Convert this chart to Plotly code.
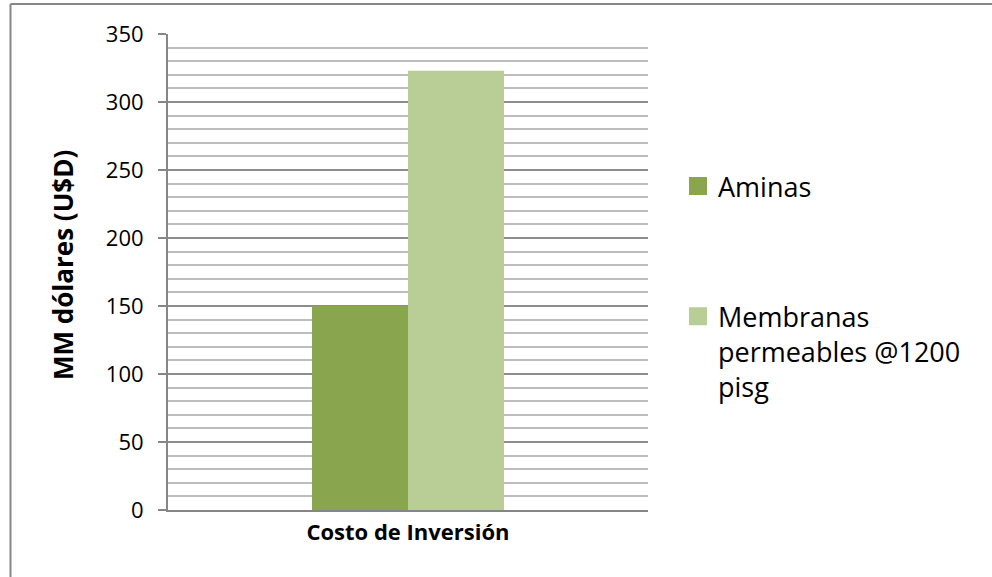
import plotly.graph_objects as go

# Investment cost comparison (millions of US dollars)
categories = ["Costo de Inversión"]
series_names = ["Aminas", "Membranas<br>permeables @1200<br>pisg"]
aminas_values = [150]
membranas_values = [323]
series_colors = ["#89A54E", "#B9CD96"]
y_tick_values = [0, 50, 100, 150, 200, 250, 300, 350]

W, H = 992, 577
L, R, T, B = 168, 344, 34, 67
plot_w = W - L - R
plot_h = H - T - B

FONT = "'Open Sans', Lato, sans-serif"
AXIS_GREY = "#868686"

fig = go.Figure()

for name, vals, col in zip(series_names, [aminas_values, membranas_values], series_colors):
    fig.add_trace(go.Bar(
        x=categories, y=vals, name=name,
        marker=dict(color=col, line=dict(width=0)),
        showlegend=False, legendgroup=name,
    ))

# larger square legend keys
for name, col in zip(series_names, series_colors):
    fig.add_trace(go.Scatter(
        x=[None], y=[None], mode="markers", name=name, legendgroup=name,
        marker=dict(symbol="square", size=16, color=col, line=dict(color=col, width=2)),
    ))

def px_x(px):
    return (px - L) / plot_w

def px_y(py):
    return (H - B - py) / plot_h

fig.update_layout(
    width=W, height=H,
    margin=dict(l=L, r=R, t=T, b=B, autoexpand=False),
    paper_bgcolor="white", plot_bgcolor="white",
    font=dict(family=FONT, color="#000000", size=22),
    barmode="group", bargap=0.6, bargroupgap=0,
    xaxis=dict(
        type="category",
        showline=True, linecolor=AXIS_GREY, linewidth=2,
        showgrid=False, ticks="",
        ticklabelstandoff=2,
        tickfont=dict(family=FONT, size=22, color="#000000", weight="bold"),
        fixedrange=True,
    ),
    yaxis=dict(
        range=[0, 350],
        tickvals=y_tick_values,
        showline=True, linecolor=AXIS_GREY, linewidth=2,
        showgrid=True, gridcolor="#8C8C8C", gridwidth=1.5,
        ticks="outside", ticklen=8, tickcolor=AXIS_GREY, tickwidth=2,
        ticklabelstandoff=10,
        tickfont=dict(family=FONT, size=22, color="#000000"),
        minor=dict(dtick=10, showgrid=True, gridcolor="#BDBDBD", gridwidth=1.5, ticks=""),
        zeroline=False,
        fixedrange=True,
    ),
    legend=dict(
        x=px_x(678), y=px_y(162), xanchor="left", yanchor="top",
        font=dict(family=FONT, size=27, color="#000000"),
        traceorder="grouped", tracegroupgap=92,
        valign="top", bgcolor="rgba(0,0,0,0)",
        itemwidth=30,
    ),
    annotations=[dict(
        text="<b>MM dólares (U$D)</b>",
        xref="paper", yref="paper", x=px_x(63), y=px_y(265),
        xanchor="center", yanchor="middle", textangle=-90, showarrow=False,
        font=dict(family=FONT, size=26, color="#000000"),
    )],
    shapes=[
        dict(type="line", xref="paper", yref="paper",
             x0=px_x(10.5), x1=px_x(1000), y0=px_y(4), y1=px_y(4),
             line=dict(color=AXIS_GREY, width=2)),
        dict(type="line", xref="paper", yref="paper",
             x0=px_x(10.5), x1=px_x(10.5), y0=px_y(4), y1=px_y(590),
             line=dict(color=AXIS_GREY, width=2)),
    ],
)

fig.write_html("out.html", config={"displayModeBar": False})
